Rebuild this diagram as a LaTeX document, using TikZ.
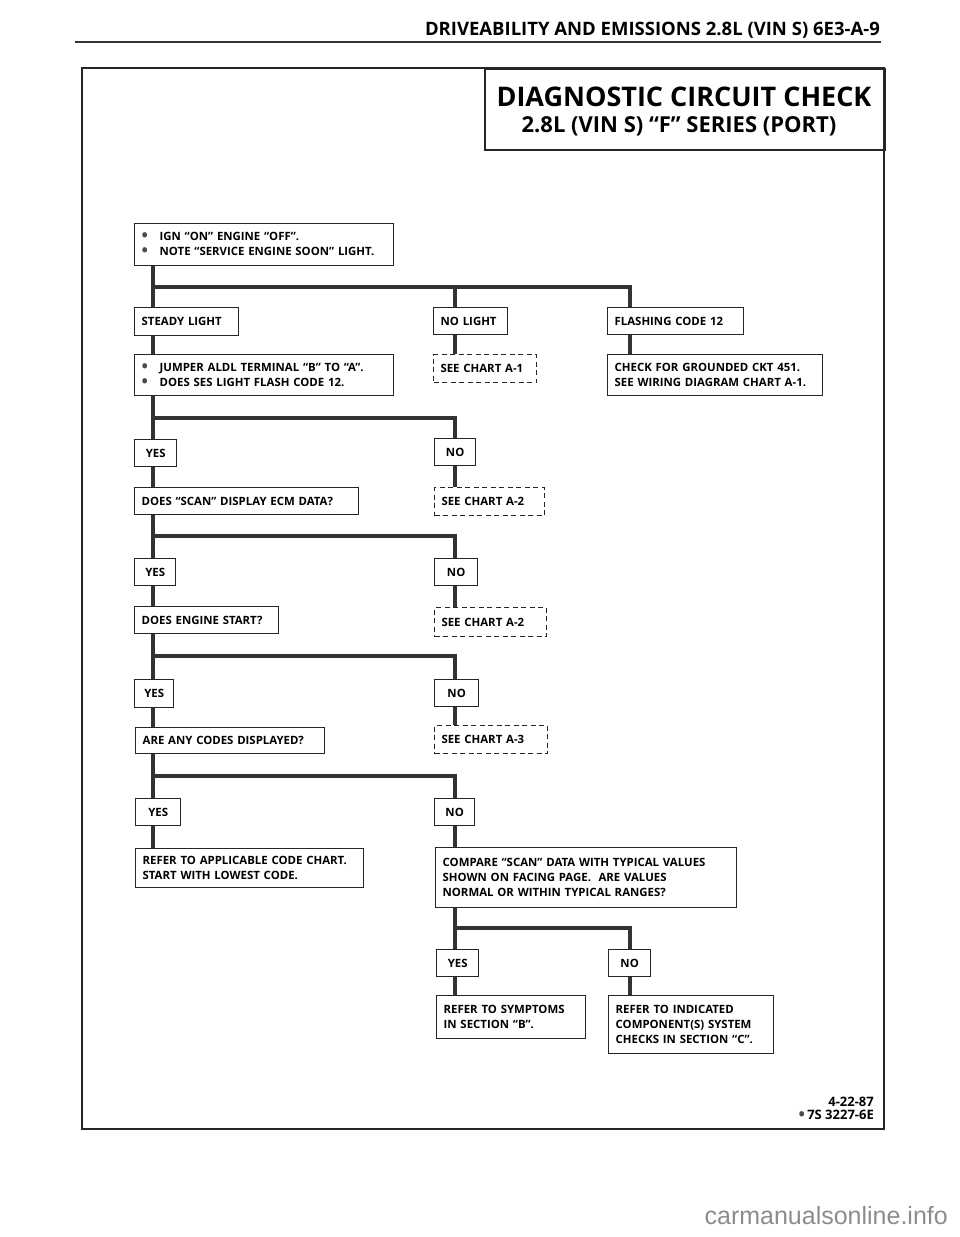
\documentclass[tikz,border=0pt]{standalone}
\usepackage{fontspec}
\setmainfont{Open Sans}
\newfontfamily\markfont{Liberation Sans}
\usetikzlibrary{positioning}

\newcommand\boxfont{\bfseries\fontsize{11.4}{15}\selectfont}
\newcommand\bigdot{\raisebox{-1.2pt}{\fontsize{17}{15}\selectfont\color{black!70}\textbullet}}
\newcommand\dotitem{\makebox[18pt][l]{\bigdot}}

\tikzset{
  stepbox/.style={draw=black!85, line width=1.3pt, anchor=north west,
    inner xsep=7pt, inner ysep=0pt, align=left, font=\boxfont},
  answerbox/.style={stepbox, align=center, minimum width=42pt, minimum height=27pt},
  chartbox/.style={stepbox, dash pattern=on 5pt off 3.5pt, line width=1.1pt},
  wire/.style={line width=3.8pt, draw=black!80},
}

\begin{document}
\begin{tikzpicture}[x=1pt, y=-1pt]
  \useasboundingbox (0,0) rectangle (960,1237);

  % page head and frame
  \node[anchor=base east, font=\bfseries\fontsize{18.5}{20}\selectfont, inner sep=0pt] (head) at (880,35)
    {DRIVEABILITY AND EMISSIONS 2.8L (VIN S) 6E3-A-9};
  \draw[line width=2pt, black!80] (75,41.5) -- (881,41.5);
  \draw[line width=2pt, black!85] (82,68) rectangle (884,1129);
  \node[draw=black!85, line width=1.8pt, anchor=north west, minimum width=400pt,
    minimum height=81pt] (title) at (484,68) {};
  \node[font=\bfseries\fontsize{27}{28}\selectfont] (ttl) at (684,97) {DIAGNOSTIC CIRCUIT CHECK};
  \node[font=\bfseries\fontsize{22}{23}\selectfont] (sub) at (679,126) {2.8L (VIN S) “F” SERIES (PORT)};

  % branch lines
  \coordinate (trk) at (153,0);
  \coordinate (nob) at (455,0);
  \coordinate (flb) at (630,0);

  % first test
  \node[stepbox, text width=245pt, minimum height=42pt] (ign) at (134,223)
    {\dotitem IGN “ON” ENGINE “OFF”.\\ \dotitem NOTE “SERVICE ENGINE SOON” LIGHT.};
  \node[stepbox, text width=90pt, minimum height=28pt] (steady) at (134,307) {STEADY LIGHT};
  \node[stepbox, text width=60pt, minimum height=27pt] (nolight) at (433,307) {NO LIGHT};
  \node[stepbox, text width=122pt, minimum height=27pt] (flash) at (607,307) {FLASHING CODE 12};
  \node[stepbox, text width=245pt, minimum height=41pt] (jumper) at (134,354)
    {\dotitem JUMPER ALDL TERMINAL “B” TO “A”.\\ \dotitem DOES SES LIGHT FLASH CODE 12.};
  \node[chartbox, text width=89pt, minimum height=28pt] (seea1) at (433,354) {SEE CHART A-1};
  \node[stepbox, text width=201pt, minimum height=41pt] (ckt) at (607,354)
    {CHECK FOR GROUNDED CKT 451.\\ SEE WIRING DIAGRAM CHART A-1.};

  % scan tool
  \node[answerbox] (yes1) at (134,439) {YES};
  \node[answerbox, minimum width=41pt] (no1) at (434,438) {NO};
  \node[stepbox, text width=210pt, minimum height=27pt] (scan) at (134,487) {DOES “SCAN” DISPLAY ECM DATA?};
  \node[chartbox, text width=96pt, minimum height=28pt] (seea2) at (434,487) {SEE CHART A-2};

  % engine start
  \node[answerbox, minimum width=41pt] (yes2) at (134,558) {YES};
  \node[answerbox, minimum width=43pt] (no2) at (434,558) {NO};
  \node[stepbox, text width=130pt, minimum height=27pt] (start) at (134,606) {DOES ENGINE START?};
  \node[chartbox, text width=98pt, minimum height=29pt] (seea2b) at (434,607) {SEE CHART A-2};

  % codes
  \node[answerbox, minimum width=39pt, minimum height=28pt] (yes3) at (134,679) {YES};
  \node[answerbox, minimum width=44pt] (no3) at (434,679) {NO};
  \node[stepbox, text width=175pt, minimum height=26pt] (codes) at (135,727) {ARE ANY CODES DISPLAYED?};
  \node[chartbox, text width=99pt, minimum height=28pt] (seea3) at (434,725) {SEE CHART A-3};

  % data check
  \node[answerbox, minimum width=45pt] (yes4) at (135,798) {YES};
  \node[answerbox, minimum width=40pt] (no4) at (434,798) {NO};
  \node[stepbox, text width=214pt, minimum height=39pt] (refer) at (135,848)
    {REFER TO APPLICABLE CODE CHART.\\ START WITH LOWEST CODE.};
  \node[stepbox, text width=287pt, minimum height=60pt] (compare) at (435,847)
    {COMPARE “SCAN” DATA WITH TYPICAL VALUES\\ SHOWN ON FACING PAGE.\ \ ARE VALUES\\ NORMAL OR WITHIN TYPICAL RANGES?};
  \node[answerbox] (yes5) at (436,949) {YES};
  \node[answerbox] (no5) at (608,949) {NO};
  \node[stepbox, text width=135pt, minimum height=43pt] (symp) at (436,995)
    {REFER TO SYMPTOMS\\ IN SECTION “B”.};
  \node[stepbox, text width=151pt, minimum height=58pt] (indic) at (608,995)
    {REFER TO INDICATED\\ COMPONENT(S) SYSTEM\\ CHECKS IN SECTION “C”.};

  % connectors
  \coordinate (bus1) at (0,287);
  \coordinate (bus2) at (0,418);
  \coordinate (bus3) at (0,536);
  \coordinate (bus4) at (0,656);
  \coordinate (bus5) at (0,776);
  \coordinate (bus6) at (0,928);
  \draw[wire] (ign.south -| trk) -- (steady.north -| trk);
  \draw[wire] (bus1 -| trk) -| (nolight.north -| nob);
  \draw[wire] (bus1 -| trk) -| (flash.north -| flb);
  \draw[wire] (steady.south -| trk) -- (jumper.north -| trk);
  \draw[wire] (nolight.south -| nob) -- (seea1.north -| nob);
  \draw[wire] (flash.south -| flb) -- (ckt.north -| flb);
  \draw[wire] (jumper.south -| trk) -- (yes1.north -| trk);
  \draw[wire] (bus2 -| trk) -| (no1.north -| nob);
  \draw[wire] (yes1.south -| trk) -- (scan.north -| trk);
  \draw[wire] (no1.south -| nob) -- (seea2.north -| nob);
  \draw[wire] (scan.south -| trk) -- (yes2.north -| trk);
  \draw[wire] (bus3 -| trk) -| (no2.north -| nob);
  \draw[wire] (yes2.south -| trk) -- (start.north -| trk);
  \draw[wire] (no2.south -| nob) -- (seea2b.north -| nob);
  \draw[wire] (start.south -| trk) -- (yes3.north -| trk);
  \draw[wire] (bus4 -| trk) -| (no3.north -| nob);
  \draw[wire] (yes3.south -| trk) -- (codes.north -| trk);
  \draw[wire] (no3.south -| nob) -- (seea3.north -| nob);
  \draw[wire] (codes.south -| trk) -- (yes4.north -| trk);
  \draw[wire] (bus5 -| trk) -| (no4.north -| nob);
  \draw[wire] (yes4.south -| trk) -- (refer.north -| trk);
  \draw[wire] (no4.south -| nob) -- (compare.north -| nob);
  \draw[wire] (compare.south -| nob) -- (yes5.north -| nob);
  \draw[wire] (bus6 -| nob) -| (no5.north -| flb);
  \draw[wire] (yes5.south -| nob) -- (symp.north -| nob);
  \draw[wire] (no5.south -| flb) -- (indic.north -| flb);

  % footer
  \node[anchor=base east, font=\bfseries\fontsize{13}{14}\selectfont, inner sep=0pt] (date) at (874,1106) {4-22-87};
  \node[anchor=base east, font=\bfseries\fontsize{13}{14}\selectfont, inner sep=0pt] (code) at (874,1119)
    {\bigdot\,7S 3227-6E};
  \node[anchor=base east, font=\markfont\fontsize{25}{25}\selectfont, text=black!45, inner sep=0pt] (mark)
    at (948,1224) {carmanualsonline.info};
\end{tikzpicture}
\end{document}
